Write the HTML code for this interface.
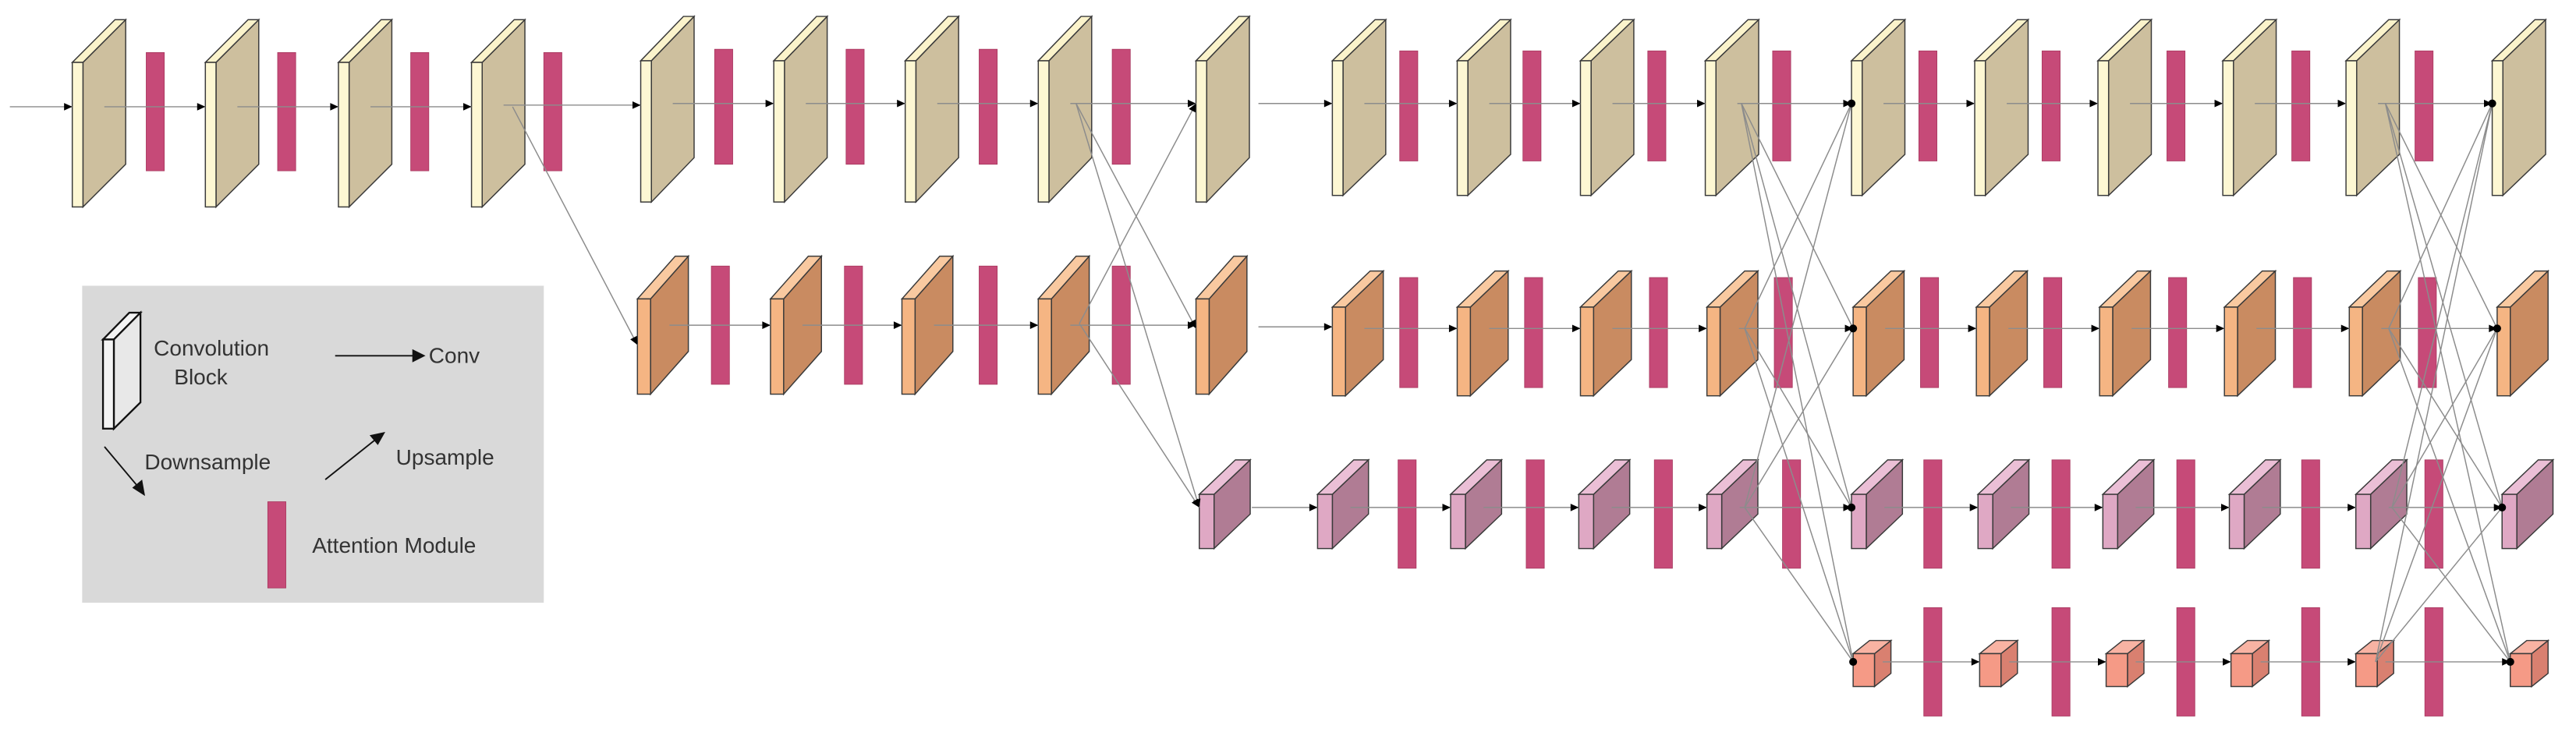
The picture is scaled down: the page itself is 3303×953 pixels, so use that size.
<!DOCTYPE html>
<html><head><meta charset="utf-8"><style>
html,body{margin:0;padding:0;background:#fff;}
svg{display:block;}
</style></head><body>
<svg id="s" xmlns="http://www.w3.org/2000/svg" width="3303" height="953" viewBox="0 0 1568 452.4" preserveAspectRatio="none">
<rect x="0" y="0" width="1568" height="452.4" fill="#fff"/>
<g id="blocks"></g><g id="bars"></g><g id="lines"></g>
<g id="legend" font-family="'Liberation Sans', sans-serif" font-size="13.3" fill="#333">
<rect x="50" y="174" width="281" height="193" fill="#d9d9d9"/>
<polygon points="62.7,206.7 78.7,190.4 85.5,190.4 69.3,206.7" fill="#f4f4f4" stroke="#111" stroke-width="1.1"/>
<polygon points="69.3,206.7 85.5,190.4 85.5,245 69.3,261" fill="#e8e8e8" stroke="#111" stroke-width="1.1"/>
<rect x="62.7" y="206.7" width="6.6" height="54.3" fill="#f4f4f4" stroke="#111" stroke-width="1.1"/>
<text x="93.6" y="216.5">Convolution</text>
<text x="106" y="234">Block</text>
<line x1="204" y1="216.6" x2="252" y2="216.6" stroke="#111" stroke-width="0.9"/>
<polygon points="259,216.6 251,212.6 251,220.6" fill="#111"/>
<text x="261" y="221">Conv</text>
<line x1="63.6" y1="272" x2="85" y2="297.5" stroke="#111" stroke-width="0.9"/>
<polygon points="88.3,302 80.5,297 86.5,292" fill="#111"/>
<text x="88" y="285.7">Downsample</text>
<line x1="198" y1="292" x2="230" y2="266.5" stroke="#111" stroke-width="0.9"/>
<polygon points="234.5,263 230,271 225,265" fill="#111"/>
<text x="241" y="283">Upsample</text>
<rect x="163" y="305.5" width="11" height="52.5" fill="#c64a78" stroke="#a8385f" stroke-width="0.4"/>
<text x="190" y="336.6">Attention Module</text>
</g>
</svg>
<script>
var NS="http://www.w3.org/2000/svg";
function el(p,t,a){var e=document.createElementNS(NS,t);for(var k in a)e.setAttribute(k,a[k]);document.getElementById(p).appendChild(e);return e;}
var ST="#3a3a3a";
function block(x,yT,yB,fw,dx,dy,cF,cT,cS){
 el("blocks","polygon",{points:[x+fw,yT,x+fw+dx,yT-dy,x+fw+dx,yB-dy,x+fw,yB].join(","),fill:cS,stroke:ST,"stroke-width":0.7});
 el("blocks","polygon",{points:[x,yT,x+dx,yT-dy,x+dx+fw,yT-dy,x+fw,yT].join(","),fill:cT,stroke:ST,"stroke-width":0.7});
 el("blocks","rect",{x:x,y:yT,width:fw,height:yB-yT,fill:cF,stroke:ST,"stroke-width":0.7});
}
function bar(x,y1,y2){el("bars","rect",{x:x,y:y1,width:11,height:y2-y1,fill:"#c64a78",stroke:"#a8385f","stroke-width":0.4});}
var LC="#8c8c8c";
function arrow(x1,y1,x2,y2){
 el("lines","line",{x1:x1,y1:y1,x2:x2,y2:y2,stroke:LC,"stroke-width":0.7});
 var a=Math.atan2(y2-y1,x2-x1),L=5,W=2.3;
 var bx=x2-L*Math.cos(a),by=y2-L*Math.sin(a);
 el("lines","polygon",{points:[x2,y2,bx-W*Math.sin(a),by+W*Math.cos(a),bx+W*Math.sin(a),by-W*Math.cos(a)].join(","),fill:"#000"});
}
function line(x1,y1,x2,y2){el("lines","line",{x1:x1,y1:y1,x2:x2,y2:y2,stroke:LC,"stroke-width":0.7});}
function dot(x,y){el("lines","circle",{cx:x,cy:y,r:2.4,fill:"#000"});}

var beige=["#fdf7d3","#fbf3cb","#cdbf9e"],orange=["#f5b583","#f9c9a0","#c98b61"],pink=["#dfa8c4","#ebbfd6","#b07c94"],salm=["#f59a86","#f8b3a3","#d98070"];
var rows=[];
// row1
var r1=[];
[44,125,206,287].forEach(function(x){block(x,38,126,6.5,26,26,beige[0],beige[1],beige[2]);r1.push([x,6.5,26,65]);});
[390,471,551,632,728].forEach(function(x){block(x,37,123,6.5,26,27,beige[0],beige[1],beige[2]);r1.push([x,6.5,26,x<700?63:63]);});
[811,887,962,1038,1127,1202,1277,1353,1428,1517].forEach(function(x){block(x,37,119,6.5,26,25,beige[0],beige[1],beige[2]);r1.push([x,6.5,26,63]);});
// row2
var r2=[];
[388,469,549,632,728].forEach(function(x){block(x,182,240,8,23,26,orange[0],orange[1],orange[2]);r2.push([x,8,23,198]);});
[811,887,962,1039,1128,1203,1278,1354,1430,1520].forEach(function(x){block(x,187,241,8,23,22,orange[0],orange[1],orange[2]);r2.push([x,8,23,200]);});
// row3
var r3=[];
[730,802,883,961,1039,1127,1204,1280,1357,1434,1523].forEach(function(x){block(x,301,334,9,22,21,pink[0],pink[1],pink[2]);r3.push([x,9,22,309]);});
// row4
var r4=[];
[1128,1205,1282,1358,1434,1528].forEach(function(x){block(x,398,418,13,10,8,salm[0],salm[1],salm[2]);r4.push([x,13,10,403]);});

[89,169,250,331].forEach(function(x){bar(x,32,104);});
[435,515,596,677].forEach(function(x){bar(x,30,100);});
[852,927,1003,1079,1168,1243,1319,1395,1470].forEach(function(x){bar(x,31,98);});
[433,514,596,677].forEach(function(x){bar(x,162,234);});
[852,928,1004,1080,1169,1244,1320,1396,1472].forEach(function(x){bar(x,169,236);});
[851,929,1007,1085,1171,1249,1325,1401,1476].forEach(function(x){bar(x,280,346);});
[1171,1249,1325,1401,1476].forEach(function(x){bar(x,370,436);});

arrow(6,65,44,65);
[r1,r2,r3,r4].forEach(function(r){
 for(var i=0;i<r.length-1;i++){var b=r[i],n=r[i+1];
  var sx=b[0]+b[1]+b[2]*0.5; if(b[0]==728&&r!==r3) sx=b[0]+38; if(b[0]==730) sx=b[0]+32;
  arrow(sx,(b[3]+n[3])/2,n[0],(b[3]+n[3])/2);}
});
arrow(312,65,388,210);
arrow(655,63,728,200);arrow(655,63,730,309);arrow(657,197,728,63);arrow(657,197,730,309);
var S1=[[1060,63],[1062,200],[1062,309]],D1=[[1127,63],[1128,200],[1127,309],[1128,403]];
S1.forEach(function(s,i){D1.forEach(function(d,j){if(i!=j)line(s[0],s[1],d[0],d[1]);});});
D1.forEach(function(d){dot(d[0],d[1]);});
var S2=[[1452,63],[1454,200],[1456,309],[1446,403]],D2=[[1517,63],[1520,200],[1523,309],[1528,403]];
S2.forEach(function(s,i){D2.forEach(function(d,j){if(i!=j)line(s[0],s[1],d[0],d[1]);});});
D2.forEach(function(d){dot(d[0],d[1]);});
</script>
</body></html>
